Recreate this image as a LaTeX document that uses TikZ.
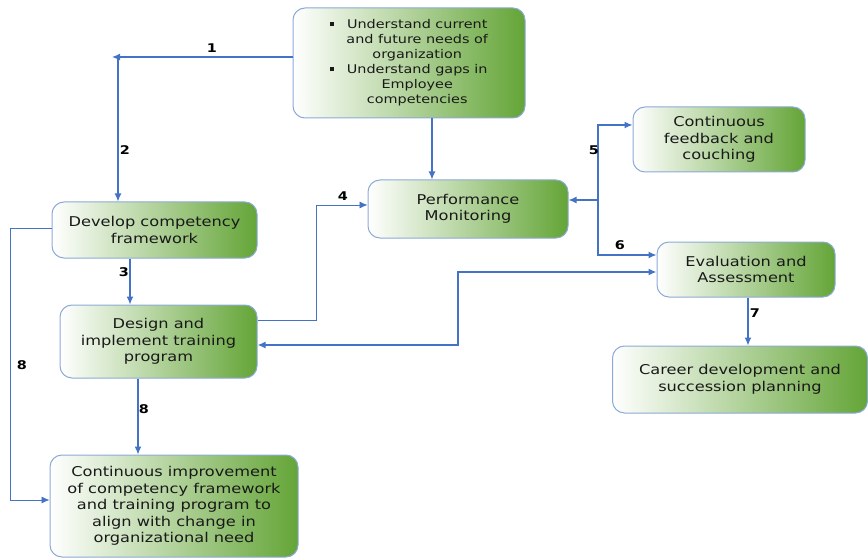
\documentclass[tikz,border=0pt]{standalone}
\usepackage{fontspec}
\setmainfont[FakeStretch=1.2]{DejaVu Sans}
\usetikzlibrary{arrows.meta}
\definecolor{lnc}{RGB}{68,114,196}
\definecolor{grc}{RGB}{100,165,55}
\definecolor{bdc}{RGB}{140,170,215}
\begin{document}
\begin{tikzpicture}[x=1pt,y=-1pt,
  box/.style={draw=bdc, line width=1pt, rounded corners=12pt, left color=white, right color=grc,
    align=center, inner sep=0pt, text=black!90, font=\fontsize{13.5}{16.5}\selectfont},
  conn/.style={draw=lnc, line width=1.3pt, -{Latex[length=8pt,width=7pt]}},
  thinconn/.style={conn, line width=0.8pt},
  lbl/.style={font=\bfseries\fontsize{12}{14}\selectfont, text=black}]
\useasboundingbox (0,0) rectangle (868,559);

\node[box, minimum width=232pt, minimum height=110pt, font=\fontsize{12}{15}\selectfont] (T) at (409,63)
  {\begin{tabular}{@{}c@{\hspace{12pt}}c@{}}
   \raisebox{2pt}{\rule{4.5pt}{4.5pt}} & Understand current\\
   & and future needs of\\
   & organization\\
   \raisebox{2pt}{\rule{4.5pt}{4.5pt}} & Understand gaps in\\
   & Employee\\
   & competencies
   \end{tabular}};
\node[box, minimum width=205pt, minimum height=56pt] (D) at (154.5,230) {Develop competency\\framework};
\node[box, minimum width=197pt, minimum height=73pt] (I) at (158.5,341.5) {Design and\\implement training\\program};
\node[box, minimum width=200pt, minimum height=58pt] (P) at (468,209) {Performance\\Monitoring};
\node[box, minimum width=172pt, minimum height=65pt] (F) at (719,139.5) {Continuous\\feedback and\\couching};
\node[box, minimum width=178pt, minimum height=55pt] (E) at (746,269.5) {Evaluation and\\Assessment};
\node[box, minimum width=255pt, minimum height=67pt] (C) at (740,379.5) {Career development and\\succession planning};
\node[box, minimum width=248pt, minimum height=102pt] (CI) at (174,506) {Continuous improvement\\of competency framework\\and training program to\\align with change in\\organizational need};

% helper coordinates
\coordinate (k1) at (112,57);
\coordinate (k2) at (118,57);
\coordinate (x3) at (130,0);
\coordinate (k4) at (316,320);
\coordinate (y4) at (0,205);
\coordinate (xTP) at (432,0);
\coordinate (k5c) at (598,200);
\coordinate (y5a) at (0,125);
\coordinate (y5b) at (0,255);
\coordinate (k6) at (458,272);
\coordinate (y6) at (0,345);
\coordinate (x7) at (748,0);
\coordinate (x8) at (138,0);
\coordinate (k9) at (10,228);
\coordinate (y9) at (0,500);

\draw[conn] (T.west |- k1) -- (k1);
\draw[conn] (k2) -- (k2 |- D.north);
\draw[conn] (D.south -| x3) -- (I.north -| x3);
\draw[thinconn] (I.east |- k4) -- (k4) |- (P.west |- y4);
\draw[conn] (T.south -| xTP) -- (P.north -| xTP);
\draw[conn] (k5c) -- (P.east |- k5c);
\draw[conn] (k5c) |- (F.west |- y5a);
\draw[conn] (k5c) |- (E.west |- y5b);
\draw[conn, line width=2pt, {Latex[length=8pt,width=7pt]}-{Latex[length=8pt,width=7pt]}] (I.east |- y6) -| (k6) -- (E.west |- k6);
\draw[conn] (E.south -| x7) -- (C.north -| x7);
\draw[conn] (I.south -| x8) -- (CI.north -| x8);
\draw[thinconn] (D.west |- k9) -- (k9) |- (CI.west |- y9);

\node[lbl] (l1) at (212,48) {1};
\node[lbl] (l2) at (125,150) {2};
\node[lbl] (l3) at (124,272) {3};
\node[lbl] (l4) at (343,196) {4};
\node[lbl] (l5) at (594,150) {5};
\node[lbl] (l6) at (620,245) {6};
\node[lbl] (l7) at (755,313) {7};
\node[lbl] (l8a) at (144,409) {8};
\node[lbl] (l8b) at (22,365) {8};
\end{tikzpicture}
\end{document}
